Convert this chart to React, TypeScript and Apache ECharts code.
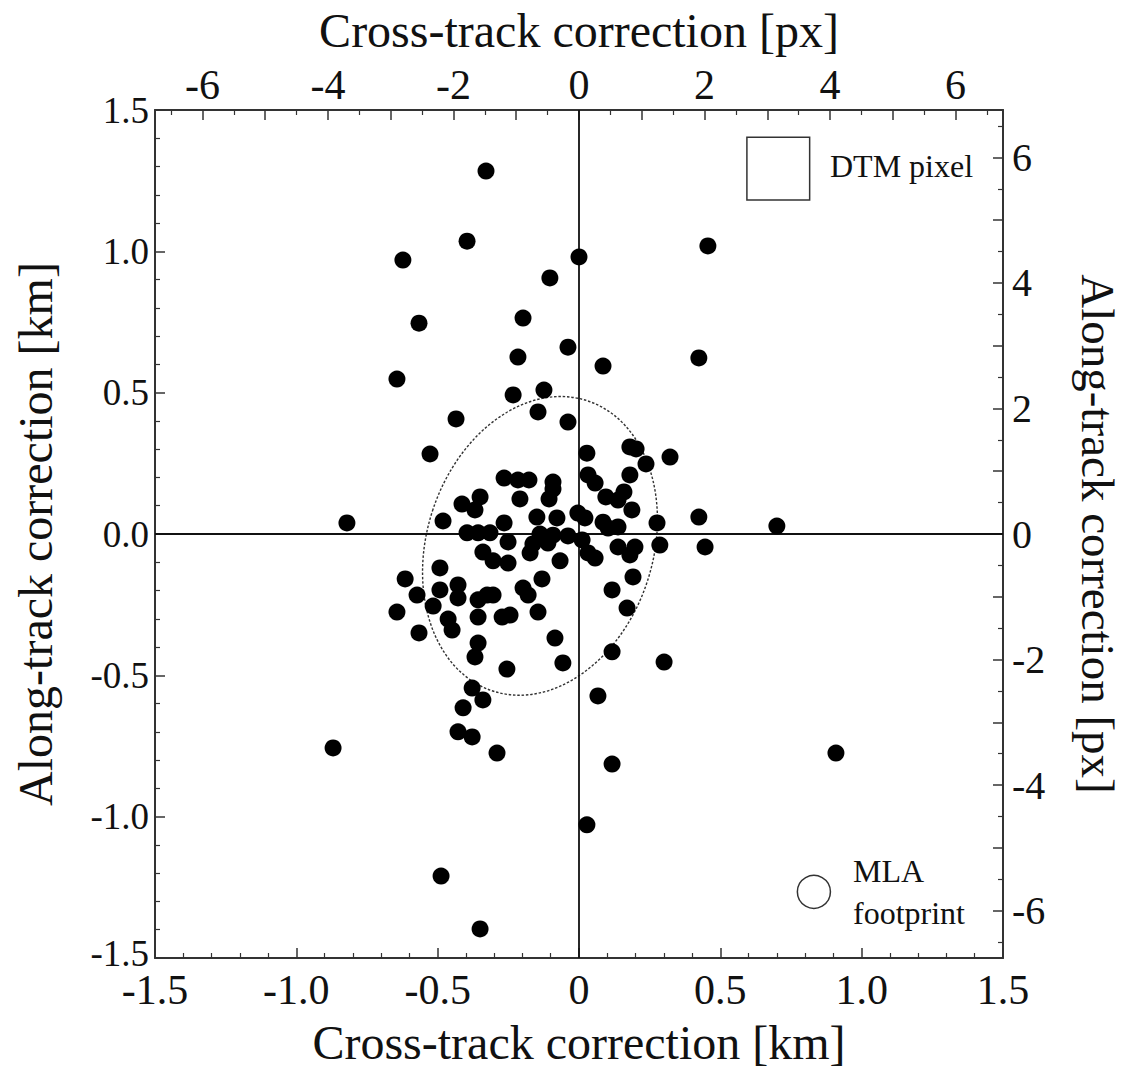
import React, { useEffect, useRef } from "react";
import * as echarts from "echarts";

// Cross-track / along-track corrections [km]
const crossTrackKm = [
  -0.329, -0.396, -0.623, -0.103, 0.0, 0.456, -0.566, -0.198, -0.039, -0.216,
  0.085, 0.424, -0.644, -0.124, -0.233, -0.145, -0.435, -0.039, -0.527, 0.028,
  0.18, 0.202, 0.237, 0.322, 0.032, 0.057, 0.18, 0.159, 0.138, 0.095,
  0.187, 0.276, 0.424, 0.7, -0.004, 0.021, 0.085, 0.138, 0.103, -0.821,
  -0.481, -0.414, -0.35, -0.368, -0.265, -0.216, -0.177, -0.209, -0.092, -0.092,
  -0.106, -0.149, -0.078, -0.265,
  -0.396, -0.357, -0.315, -0.138, -0.092, -0.039, -0.251, -0.163, 0.011, 0.446,
  0.286, 0.138, 0.198, -0.11,
  0.032, 0.057, 0.18, 0.191, 0.117, 0.17, 0.117, 0.301, 0.067, 0.117,
  0.028, 0.909, -0.34, -0.304, -0.251, -0.173, -0.067, -0.492, -0.615, -0.573,
  -0.492, -0.516, -0.644, -0.428, -0.428, -0.357, -0.325, -0.304, -0.357, -0.272,
  -0.244, -0.198, -0.18, -0.131, -0.145, -0.463, -0.449, -0.566, -0.357, -0.368,
  -0.255, -0.085, -0.057, -0.378, -0.34, -0.41, -0.428, -0.378, -0.29, -0.87,
  -0.488, -0.35,
];
const alongTrackKm = [
  1.284, 1.036, 0.969, 0.906, 0.98, 1.019, 0.746, 0.764, 0.661, 0.626,
  0.594, 0.623, 0.548, 0.509, 0.492, 0.432, 0.407, 0.396, 0.283, 0.286,
  0.308, 0.301, 0.248, 0.272, 0.209, 0.18, 0.209, 0.149, 0.12, 0.131,
  0.085, 0.039, 0.06, 0.028, 0.074, 0.057, 0.042, 0.025, 0.021, 0.039,
  0.046, 0.106, 0.131, 0.085, 0.198, 0.191, 0.191, 0.124, 0.184, 0.159,
  0.124, 0.06, 0.057, 0.039,
  0.004, 0.004, 0.004, 0.0, -0.004, -0.007, -0.028, -0.035, -0.021, -0.046,
  -0.039, -0.046, -0.046, -0.032,
  -0.067, -0.085, -0.074, -0.152, -0.198, -0.262, -0.417, -0.453, -0.573, -0.814,
  -1.029, -0.775, -0.064, -0.095, -0.103, -0.067, -0.095, -0.12, -0.159, -0.216,
  -0.198, -0.255, -0.276, -0.18, -0.226, -0.233, -0.216, -0.216, -0.294, -0.294,
  -0.287, -0.191, -0.216, -0.159, -0.276, -0.301, -0.34, -0.35, -0.386, -0.435,
  -0.478, -0.368, -0.456, -0.545, -0.587, -0.615, -0.7, -0.718, -0.775, -0.757,
  -1.21, -1.397,
];

// Axis ticks
const KM_MIN = -1.5;
const KM_MAX = 1.5;
const KM_INTERVAL = 0.5;
const KM_PER_PX = 0.222; // size of one DTM pixel in km
const pxLabels = [-6, -4, -2, 0, 2, 4, 6];
const pxMajorTicks = [-6, -5, -4, -3, -2, -1, 0, 1, 2, 3, 4, 5, 6];
const pxMinorTicks = [
  -6.5, -5.5, -4.5, -3.5, -2.5, -1.5, -0.5, 0.5, 1.5, 2.5, 3.5, 4.5, 5.5, 6.5,
];

// Dispersion ellipse (km)
const ellipseCenter = [-0.138, -0.042];
const ellipseSemiMajor = 0.54;
const ellipseSemiMinor = 0.4;
const ellipseTiltDeg = 18;

// Scale references
const dtmPixelCorner = [0.594, 1.404];
const mlaCenter = [0.831, -1.266];
const mlaFootprintKm = 0.117;

const FONT = "Liberation Serif";
const INK = "#111";

export default function App() {
  const ref = useRef<HTMLDivElement>(null);

  useEffect(() => {
    if (!ref.current) return;
    const chart = echarts.init(ref.current, undefined, { renderer: "svg" });
    const points = crossTrackKm.map((x, i) => [x, alongTrackKm[i]]);
    const pxMin = KM_MIN / KM_PER_PX;
    const pxMax = KM_MAX / KM_PER_PX;

    const axisLine = { show: true, onZero: false, lineStyle: { color: "#333", width: 2 } };
    const tickLabel = { fontFamily: FONT, fontSize: 42, color: INK };
    const nameStyle = { fontFamily: FONT, fontSize: 48, color: INK };

    chart.setOption({
      animation: false,
      backgroundColor: "#fff",
      grid: {
        left: 155,
        right: 122,
        top: 110,
        bottom: 114,
        containLabel: false,
        outerBoundsMode: "none",
      },
      xAxis: [
        {
          type: "value",
          position: "bottom",
          min: KM_MIN,
          max: KM_MAX,
          interval: KM_INTERVAL,
          axisLine,
          axisTick: { show: true, inside: true, length: 10, lineStyle: { color: "#333", width: 1.5 } },
          minorTick: { show: true, splitNumber: 5, length: 5, lineStyle: { color: "#333", width: 1.2 } },
          splitLine: { show: false },
          axisLabel: {
            ...tickLabel,
            margin: 15,
            lineHeight: 34,
            formatter: (v: number) => (v === 0 ? "0" : v.toFixed(1)),
          },
          name: "Cross-track correction [km]",
          nameLocation: "middle",
          nameGap: 60,
          nameTextStyle: nameStyle,
        },
        {
          type: "value",
          position: "top",
          min: pxMin,
          max: pxMax,
          axisLine,
          axisTick: {
            show: true,
            inside: true,
            length: 10,
            customValues: pxMajorTicks,
            lineStyle: { color: "#333", width: 1.5 },
          },
          splitLine: { show: false },
          axisLabel: {
            ...tickLabel,
            margin: 8,
            lineHeight: 34,
            customValues: pxLabels,
            formatter: (v: number) => String(v),
          },
          name: "Cross-track correction [px]",
          nameLocation: "middle",
          nameGap: 56,
          nameTextStyle: nameStyle,
        },
        {
          type: "value",
          position: "top",
          min: pxMin,
          max: pxMax,
          axisLine: { show: false, onZero: false },
          axisTick: {
            show: true,
            inside: true,
            length: 5,
            customValues: pxMinorTicks,
            lineStyle: { color: "#333", width: 1.2 },
          },
          splitLine: { show: false },
          axisLabel: { show: false },
        },
      ],
      yAxis: [
        {
          type: "value",
          position: "left",
          min: KM_MIN,
          max: KM_MAX,
          interval: KM_INTERVAL,
          axisLine,
          axisTick: { show: true, inside: true, length: 10, lineStyle: { color: "#333", width: 1.5 } },
          minorTick: { show: true, splitNumber: 5, length: 5, lineStyle: { color: "#333", width: 1.2 } },
          splitLine: { show: false },
          axisLabel: {
            ...tickLabel,
            fontSize: 37,
            lineHeight: 28,
            margin: 6,
            formatter: (v: number) => (v === KM_MIN ? "{lo|" + v.toFixed(1) + "}" : v.toFixed(1)),
            rich: {
              lo: {
                fontFamily: FONT,
                fontSize: 37,
                lineHeight: 28,
                color: INK,
                padding: [0, 0, 10, 0],
              },
            },
          },
          name: "Along-track correction [km]",
          nameLocation: "middle",
          nameGap: 96,
          nameTextStyle: nameStyle,
        },
        {
          type: "value",
          position: "right",
          min: pxMin,
          max: pxMax,
          axisLine,
          axisTick: {
            show: true,
            inside: true,
            length: 10,
            customValues: pxMajorTicks,
            lineStyle: { color: "#333", width: 1.5 },
          },
          splitLine: { show: false },
          axisLabel: {
            ...tickLabel,
            fontSize: 40,
            margin: 9,
            customValues: pxLabels,
            formatter: (v: number) => String(v),
          },
          name: "Along-track correction [px]",
          nameLocation: "middle",
          nameRotate: -90,
          nameGap: 71,
          nameTextStyle: { ...nameStyle, fontSize: 47 },
        },
        {
          type: "value",
          position: "right",
          min: pxMin,
          max: pxMax,
          axisLine: { show: false, onZero: false },
          axisTick: {
            show: true,
            inside: true,
            length: 5,
            customValues: pxMinorTicks,
            lineStyle: { color: "#333", width: 1.2 },
          },
          splitLine: { show: false },
          axisLabel: { show: false },
        },
      ],
      series: [
        {
          type: "scatter",
          xAxisIndex: 0,
          yAxisIndex: 0,
          symbol: "circle",
          symbolSize: 17,
          itemStyle: { color: "#000", opacity: 1 },
          data: points,
          z: 5,
          markLine: {
            silent: true,
            symbol: ["none", "none"],
            label: { show: false },
            lineStyle: { color: "#111", width: 1.8, type: "solid" },
            data: [{ xAxis: 0 }, { yAxis: 0 }],
          },
        },
        {
          type: "custom",
          xAxisIndex: 0,
          yAxisIndex: 0,
          silent: true,
          z: 3,
          data: [ellipseCenter],
          renderItem: (params: any, api: any) => {
            const c = api.coord([api.value(0), api.value(1)]);
            const ry = api.size([0, ellipseSemiMajor])[1];
            const rx = api.size([ellipseSemiMinor, 0])[0];
            return {
              type: "ellipse",
              x: c[0],
              y: c[1],
              rotation: (-ellipseTiltDeg * Math.PI) / 180,
              shape: { cx: 0, cy: 0, rx, ry },
              style: { fill: "none", stroke: "#333", lineWidth: 1.4, lineDash: [2.5, 1.8] },
            };
          },
        },
        {
          type: "custom",
          xAxisIndex: 0,
          yAxisIndex: 0,
          silent: true,
          data: [dtmPixelCorner],
          renderItem: (params: any, api: any) => {
            const p = api.coord([api.value(0), api.value(1)]);
            const s = api.size([KM_PER_PX, KM_PER_PX]);
            return {
              type: "rect",
              shape: { x: p[0], y: p[1], width: s[0], height: s[1] },
              style: { fill: "none", stroke: "#333", lineWidth: 1.5 },
            };
          },
        },
        {
          type: "custom",
          xAxisIndex: 0,
          yAxisIndex: 0,
          silent: true,
          data: [mlaCenter],
          renderItem: (params: any, api: any) => {
            const p = api.coord([api.value(0), api.value(1)]);
            const r = api.size([mlaFootprintKm / 2, 0])[0];
            return {
              type: "circle",
              shape: { cx: p[0], cy: p[1], r },
              style: { fill: "none", stroke: "#333", lineWidth: 1.5 },
            };
          },
        },
      ],
      graphic: [
        {
          type: "text",
          left: 830,
          top: 150,
          style: { text: "DTM pixel", fontFamily: FONT, fontSize: 32, fill: INK },
        },
        {
          type: "text",
          left: 853,
          top: 850,
          style: { text: "MLA\nfootprint", fontFamily: FONT, fontSize: 32, lineHeight: 42, fill: INK },
        },
      ],
    });
    return () => chart.dispose();
  }, []);

  return (
    <div
      ref={ref}
      style={{ position: "absolute", left: 0, top: 0, width: 1125, height: 1072, background: "#fff" }}
    />
  );
}
